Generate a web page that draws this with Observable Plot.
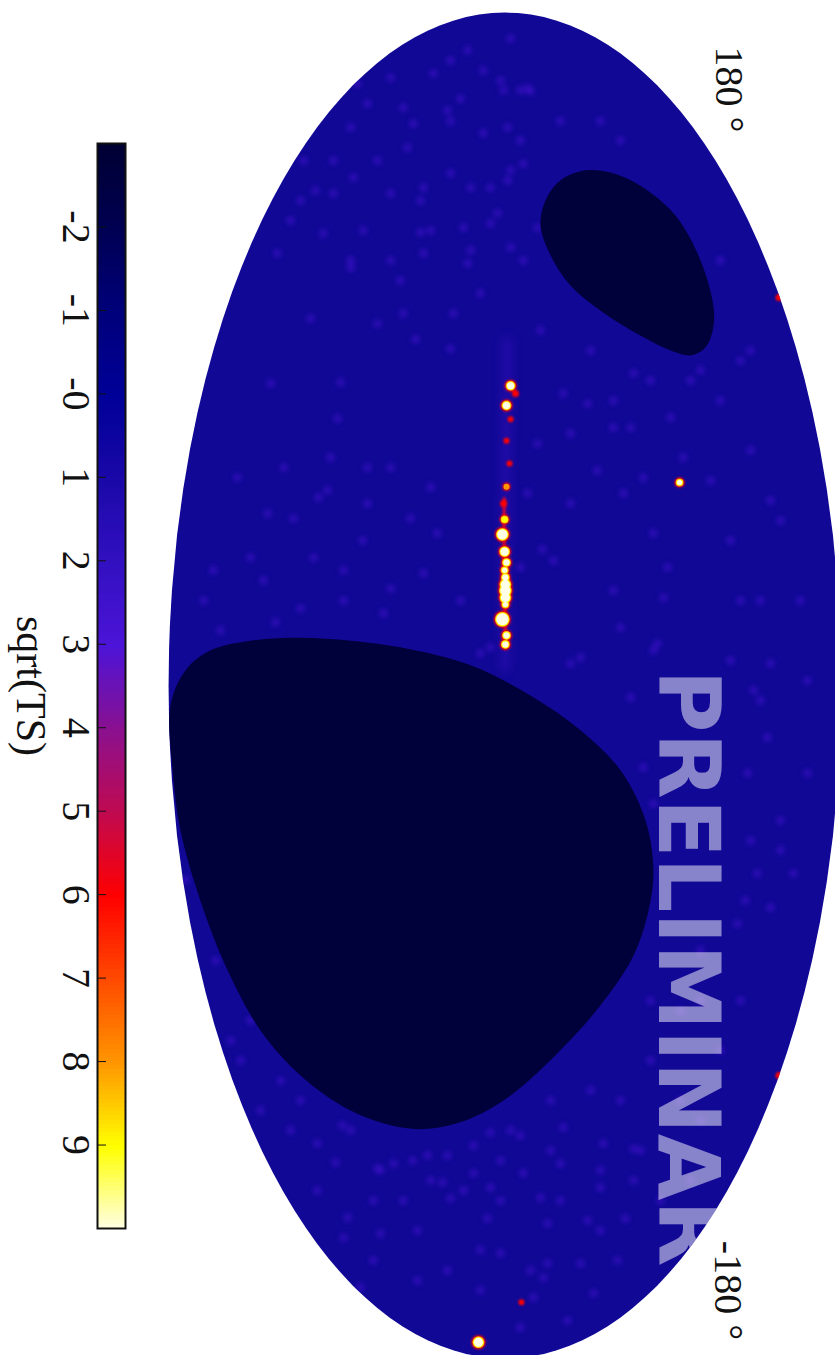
<!DOCTYPE html>
<html><head><meta charset="utf-8">
<script src="https://cdn.jsdelivr.net/npm/d3@7"></script>
<script src="https://cdn.jsdelivr.net/npm/@observablehq/plot@0.6"></script>
<style>
html,body{margin:0;padding:0;background:#fff;}
#wrap{position:relative;width:835px;height:1355px;overflow:hidden;}
#wrap svg{position:absolute;left:0;top:0;background:transparent;}
</style></head><body><div id="wrap"></div>
<script>
// Colour map of sqrt(TS)
const colorStops = [-3,-2,-1,0,1,2,3,4,5,6,7,8,9,10];
const colorValues = ["#000033","#000052","#00007a","#000098","#1a08a8","#3210c0","#4c14d8","#8a1090","#c00a50","#ff0000","#ff4a00","#ff9600","#ffff00","#ffffe8"];
const barTicks = [-2,-1,0,1,2,3,4,5,6,7,8,9];
const barTickLabels = ["-2","-1","-0","1","2","3","4","5","6","7","8","9"];

// Map-plane coordinates: u along the long axis (180 at top), v along the short axis (90 at right)
const sourceU = [80.2,74.9,78.1,71.2,65.5,59.4,53.2,48.7,44.4,40.4,35.8,32.9,30.8,28.9,27,25.4,23.5,21.7,17.7,13.4,11.0,54.3,-175.7,103.8,-104.3,-165];
const sourceV = [1.5,0.4,2.8,1.5,0.4,1.2,0.4,-0.4,-0.1,-0.7,-0.1,0.4,-0.1,0.1,0.1,0.1,0.1,0.1,-0.7,0.4,0.1,46.7,-7.1,73.3,73.3,4.4];
const sourceSize = [3.5,3.5,1,0.5,0.5,0.5,1.5,1,2.5,5,4,3,2.5,3,4.5,5,4.5,2.5,6,3,3,2.5,4.5,1,1,0.5];
const sourcePeak = [10,10,6,6,6,5.5,7,6,9,10,10,10,10,10,10,10,10,9.5,10,10,10,10,10,6,6,5];

const planeU = [92,80,60,40,20,5];
const planeV = [0.5,0.5,0.2,0,0,0];
const coreU = [50,40,30,20,10];
const coreV = [-0.2,-0.3,0,0,0.1];

const speckleU = [99.5,104.9,92.6,50.3,20.6,16.9,34.2,34.2,38.8,44.7,44.7,14.7,25.9,52.2,48.7,81.1,98.2,80.8,99.5,90.1,96.8,71.4,46,40.7,58.3,53,58.3,61,58.3,55.6,30.8,22.7,28.1,30.8,30,22.7,19.3,22.7,
 83.5,81.6,81.6,69,69,67.4,57.5,61,51.4,48.7,40.7,25.4,23.5,33.4,36.4,10.2,8.6,5.9,7.5,15.5,11.2,31.6,51.4,64.7,78.1,75.4,76.2,71.7,55.6,31.6,
 161.8,151,129.7,137.8,113.7,145.8,116.4,108.3,129.7,151,159,151,145.8,113.7,89.6,84.3,95,95,89.6,167.2,
 -137.8,-151,-156.5,-137.8,-129.7,-124.4,-116.4,-132.4,-129.7,-119,-111,-84.3,-84.3,-57.5,-44,-4,22.7,49.5,-87,-145.8,-95,-111,-119,
 149.3,147.7,159.2,159.7,164.5,163.7,154.6,153.8,149.3,155.7,150.3,157,159.2,173.1,169.9,161,162.6,135.9,132.4,131.6,124.4,115.6,120.9,121.7,121.2,121.7,122.5,123.6,117.2,133.2,133.2,137,143.9,140.4,139.6,135.1,131.6,133.2,111.8,113.7,115.6,112.9,113.7,126.3,122.5,140.4,140.4,
 -119.6,-123.1,-127.1,-125.7,-125.7,-127.9,-129.2,-127.6,-122.5,-117.7,-137.2,-135.1,-130.5,-134.3,-130.5,-127.1,-120.4,-118.2,-122.5,-123.9,-137,-142.6,-143.1,-143.9,-142.6,-132.9,-137.8,-137.8,-142.3,-135.1,-145.8,-146.6,-147.7,-156.5,-158.4,-154.6,-163.7,-171.7,-151.9,-161.8,-159.2,-153.8,-161,-154.6,-153.8,-162.6,-169.9,-134.3,-127.9,-132.4,
 -31.6,-21.9,-3.2,-1.3,-13.9,-36.1,-41.5,-23.5,-23.5,-59.4,-50.3,-50.3,9.4,6.7,5.9,1.3,-63.7,
 76.2,62.9,44.1,22.7,38.8,22.7,54.8,86.9,
 -70.9,-84.3,-97.6,-111,-100.3,-132.4,-137.8,-111,-108.3,-124.4,
 -52,-73.6,-89.6,-105.7,-100.3,-119,-113.7];
const speckleV = [-13.8,-6.6,-23.9,-49.9,-54.7,-61.4,-51.2,-68.1,-38.1,-25.3,-56.6,-76.1,-30.6,-47.5,-36.8,-44,-52,-62.7,-27.2,-14.6,-34.1,-44.8,-63.5,-18.1,-30.6,-19.9,-36.8,-46.7,-59.2,-71.6,-78,-80.6,-64.6,-43.2,-21.8,-11.9,-32.5,-43.2,
 34.4,38.9,49.6,33.6,29,17.5,24.7,47.7,31.7,17.5,39.7,29,42.4,13,10,-3.9,-6.6,17.5,20.2,30.9,40.8,4.1,6,8.7,15.6,22.1,29,44.3,37,43.5,
 -1.2,-14.6,-22.6,1.5,-41.3,4.1,-9.2,-28,-54.7,14.8,6.8,25.5,30.9,57.6,65.6,52.3,41.6,9.5,22.9,-14.6,
 -1.2,-6.6,6.8,14.8,25.5,36.2,52.3,-19.9,-33.3,1.5,12.2,38.9,52.3,64.3,73.7,68.3,63,71,47,25.5,-73.4,-54.7,-41.3,
 0.7,-5.8,4.1,6,-5.8,-19.1,-27.2,-15.4,-41.3,-36.8,-24.5,-11.9,-0.4,1.5,-10,-39.5,-30.6,-40.5,-50.7,-45.9,-57.4,-60.9,-48.6,-37.9,-22.6,-19.9,-11.1,-3.9,1.5,-9.2,-3.9,-14.6,-26.1,-34.1,4.9,0.7,-30.6,-21.8,-41.3,-30.6,-21.8,-10,4.9,-2,8.7,-53.9,-45.9,
 -3.9,-8.4,-24.7,-15.4,-20.7,-29.8,-34.1,-45.3,-50.2,-43.5,-14.6,-11.1,-8.4,-3.9,4.9,-1.2,4.1,15.6,26.3,34.4,9.5,32.2,22.1,11.4,-4.7,-16.7,-27.2,-35.2,-42.1,-50.2,-23.4,-33.3,-43.2,-15.4,10.3,11.4,7.6,4.1,-1.2,-6.6,-23.4,-35.2,-38.7,20.2,30.1,23.7,16.7,25.5,14.8,34.4,
 39.7,37,33.6,66.5,70.2,73.7,65.7,80.9,64.9,71,67.5,77.2,39.7,60.3,71,80.9,62.2,
 57.6,65.7,73.7,79,60.3,68.3,55,63,
 52.3,63,57.6,46.9,38.9,49.6,41.6,30.9,22.9,12.2,
 -85.5,-77.4,-68.1,-60,-70.7,-57.4,-65.4];

const smallMaskU = [123.1,129.7,135.1,137.8,137.2,133.7,126.3,115.6,103,96.3,90.4,88.3,89.6,93.6,100.3,107,115];
const smallMaskV = [9.5,10.8,14.8,21.5,28.2,36.2,45.1,51.5,55.5,55.8,53.6,49.6,44.3,36.2,25.5,17.5,12.2];
const largeMaskU = [12.8,12,9.4,4,-5.4,-22.7,-38.8,-57.5,-74.9,-92.3,-104.3,-113.7,-118.2,-118.5,-115.8,-109.7,-97.6,-85.6,-72.2,-60.2,-49.5,-36.1,-22.7,-12,-2.7,5.4,10.2,12];
const largeMaskV = [-54.7,-68.1,-78.8,-85.5,-89.5,-88.9,-86.8,-81.5,-74.8,-65.4,-54.7,-41.3,-28,-19.9,-9.2,1.5,14.8,25.5,34.4,38.4,39.7,37.6,30.9,20.2,6.8,-9.2,-28,-41.3];

const watermark = "PRELIMINARY";
const watermarkU = 4.3;
const watermarkV = 48.5;
const limbLabels = ["180 °","-180 °"];
const colorLabel = "sqrt(TS)";

// Mollweide, turned so that the long axis runs down the page
function mollweideRaw(lambda, phi) {
  let t = phi;
  for (let i = 0; i < 30; i++) {
    const d = (2*t + Math.sin(2*t) - Math.PI*Math.sin(phi)) / (2 + 2*Math.cos(2*t) || 1e-9);
    t -= d;
    if (Math.abs(d) < 1e-9) break;
  }
  return [Math.SQRT2*Math.sin(t), (2*Math.SQRT2/Math.PI)*lambda*Math.cos(t)];
}
const projection = d3.geoProjection(mollweideRaw).scale(237.9).translate([504.5,685]).precision(0.3);

// plane position to longitude and latitude
function geoOf(u, v) {
  const theta = Math.asin(Math.max(-1, Math.min(1, v/90)));
  return {
    lon: u/Math.cos(theta),
    lat: Math.asin((2*theta + Math.sin(2*theta))/Math.PI)*180/Math.PI
  };
}
const zip = (us, vs, extra = () => ({})) => us.map((u,i) => ({...geoOf(u, vs[i]), ...extra(i)}));

const colorScale = {type:"linear", domain: colorStops, range: colorValues, interpolate:"rgb", clamp:true};
const sources = zip(sourceU, sourceV, i => ({size: sourceSize[i], peak: sourcePeak[i]}));
const speckles = zip(speckleU, speckleV);
const plane = zip(planeU, planeV);
const core = zip(coreU, coreV);
const smallMask = zip(smallMaskU, smallMaskV);
const largeMask = zip(largeMaskU, largeMaskV);
const labelStyle = {rotate:90, text:d => d, fontFamily:"Liberation Serif", fontSize:40, fill:"#111", lineAnchor:"middle", textAnchor:"middle"};

const map = Plot.plot({
  width: 835, height: 1355, margin: 0,
  style: {background:"transparent"},
  projection: () => projection,
  color: colorScale,
  r: {type:"identity"},
  marks: [
    Plot.geo({type:"Sphere"}, {fill:"#110896", stroke:"none"}),
    Plot.line(plane, {x:"lon", y:"lat", stroke:() => 3, strokeWidth:10, strokeOpacity:0.3, imageFilter:"blur(5px)", clip:"sphere"}),
    Plot.dot(speckles, {x:"lon", y:"lat", r:4.5, fill:() => 2.6, stroke:"none", fillOpacity:0.5, clip:"sphere", imageFilter:"blur(2px)"}),
    Plot.line(smallMask, {x:"lon", y:"lat", curve:"catmull-rom-closed", fill:"#00003a", stroke:"none"}),
    Plot.line(largeMask, {x:"lon", y:"lat", curve:"catmull-rom-closed", fill:"#00003a", stroke:"none"}),
    Plot.line(core, {x:"lon", y:"lat", stroke:() => 5.5, strokeWidth:3, imageFilter:"blur(1px)", clip:"sphere"}),
    Plot.dot(sources, {x:"lon", y:"lat", r:d => d.size + 2.5, fill:() => 6, stroke:"none", clip:"sphere", imageFilter:"blur(0.8px)"}),
    Plot.dot(sources.filter(d => d.peak >= 7), {x:"lon", y:"lat", r:d => d.size + 1.5, fill:() => 8, stroke:"none", clip:"sphere", imageFilter:"blur(0.6px)"}),
    Plot.dot(sources.filter(d => d.peak >= 9), {x:"lon", y:"lat", r:d => d.size + 0.8, fill:() => 9, stroke:"none", clip:"sphere", imageFilter:"blur(0.5px)"}),
    Plot.dot(sources.filter(d => d.peak >= 9.5), {x:"lon", y:"lat", r:"size", fill:() => 10, stroke:"none", clip:"sphere", imageFilter:"blur(0.5px)"}),
    Plot.text([geoOf(watermarkU, watermarkV)], {x:"lon", y:"lat", text:() => watermark, rotate:90, textAnchor:"start", lineAnchor:"middle", fontFamily:"DejaVu Sans", fontWeight:"bold", fontSize:86, fill:"#fff", fillOpacity:0.5, clip:"sphere"}),
    Plot.text([limbLabels[0]], {frameAnchor:"top-left", dx:728, dy:89, ...labelStyle}),
    Plot.text([limbLabels[1]], {frameAnchor:"top-left", dx:727, dy:1290, ...labelStyle})
  ]
});

const barLevels = d3.range(-3, 10, 0.05);
const bar = Plot.plot({
  width: 170, height: 1355,
  marginLeft: 97, marginRight: 45, marginTop: 143, marginBottom: 127,
  style: {background:"transparent"},
  y: {domain:[-3,10], reverse:true},
  color: colorScale,
  marks: [
    Plot.rect(barLevels, {y1:d => d, y2:d => d + 0.06, fill:d => d, shapeRendering:"crispEdges"}),
    Plot.axisY(barTicks, {anchor:"left", tickSize:-9, tickFormat:() => "", label:null, stroke:"#111"}),
    Plot.text(barTicks, {y:d => d, frameAnchor:"left", dx:-22, ...labelStyle, text:(d,i) => barTickLabels[i]}),
    Plot.frame({stroke:"#111", strokeWidth:2}),
    Plot.text([colorLabel], {frameAnchor:"left", dx:-67, ...labelStyle, fontSize:42})
  ]
});

const wrap = document.getElementById("wrap");
wrap.append(map, bar);
</script>
</body></html>
